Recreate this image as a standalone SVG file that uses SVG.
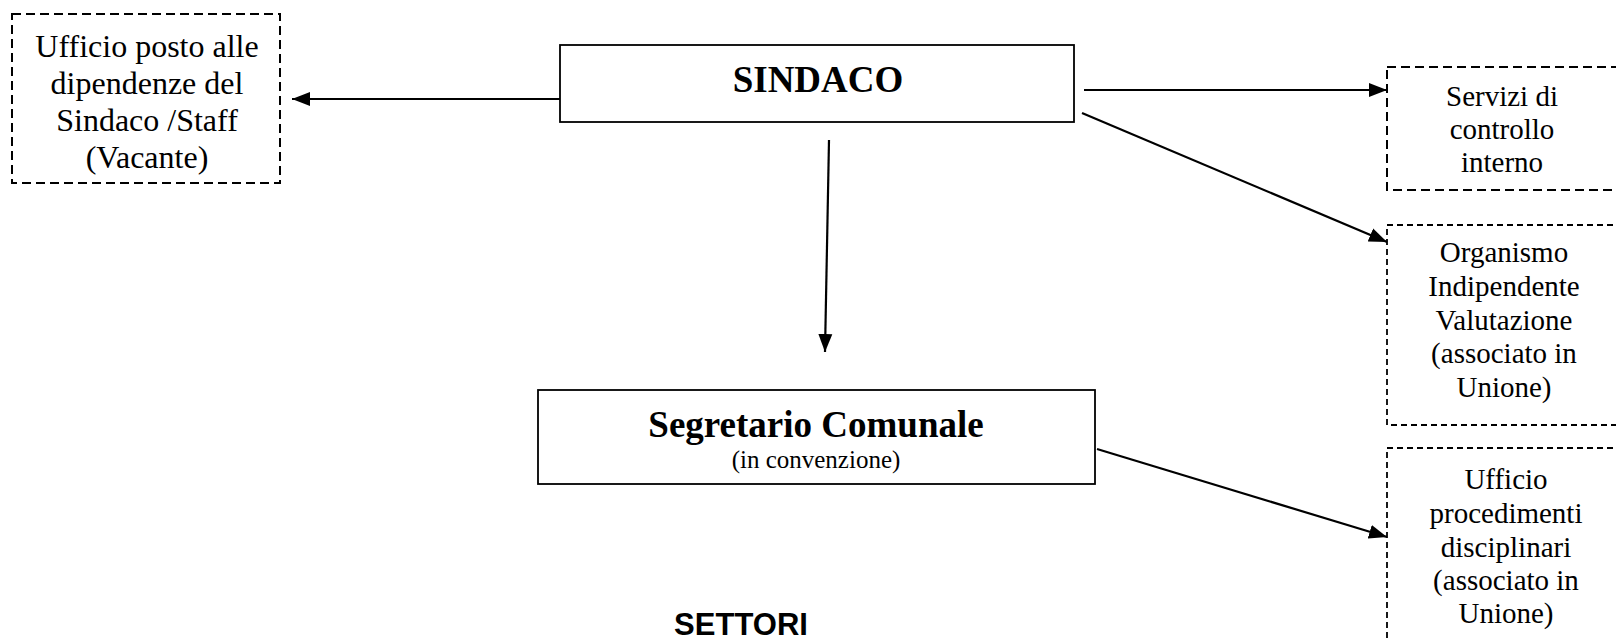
<svg xmlns="http://www.w3.org/2000/svg" width="1616" height="640" viewBox="0 0 1616 640">
<style>
.bg{fill:#fff}
.solid{fill:#fff;stroke:#000;stroke-width:1.8}
.dash{fill:#fff;stroke:#000;stroke-width:2;stroke-dasharray:9 5}
.dash2{fill:#fff;stroke:#000;stroke-width:1.8;stroke-dasharray:6 4}
.t{font-family:"Liberation Serif","Times New Roman",serif;text-anchor:middle;fill:#000}
.big{font-size:32px}
.mid{font-size:29px}
.bold{font-size:37px;font-weight:bold}
.small{font-size:25px}
.sans{font-family:"Liberation Sans",Arial,sans-serif;font-weight:bold;font-size:31px;text-anchor:middle;fill:#000}
.conn line{stroke:#000;stroke-width:2.2;marker-end:url(#arr)}
</style>
<defs>
<marker id="arr" markerUnits="userSpaceOnUse" markerWidth="19" markerHeight="16" refX="18" refY="8" orient="auto">
<path d="M0,1 L18,8 L0,15 z" fill="#000"/>
</marker>
</defs>
<rect class="bg" x="0" y="0" width="1616" height="640"/>
<g id="staff">
<rect class="dash" x="12" y="14" width="268" height="169"/>
<text class="t big" x="147" y="57">Ufficio posto alle</text>
<text class="t big" x="147" y="94">dipendenze del</text>
<text class="t big" x="147" y="131">Sindaco /Staff</text>
<text class="t big" x="147" y="168">(Vacante)</text>
</g>
<g id="sindaco">
<rect class="solid" x="560" y="45" width="514" height="77"/>
<text class="t bold" x="818" y="92">SINDACO</text>
</g>
<g id="servizi">
<rect class="dash" x="1387" y="67" width="240" height="123"/>
<text class="t mid" x="1502" y="106">Servizi di</text>
<text class="t mid" x="1502" y="139">controllo</text>
<text class="t mid" x="1502" y="172">interno</text>
</g>
<g id="oiv">
<rect class="dash2" x="1387" y="225" width="240" height="200"/>
<text class="t mid" x="1504" y="262">Organismo</text>
<text class="t mid" x="1504" y="296">Indipendente</text>
<text class="t mid" x="1504" y="330">Valutazione</text>
<text class="t mid" x="1504" y="363">(associato in</text>
<text class="t mid" x="1504" y="397">Unione)</text>
</g>
<g id="segretario">
<rect class="solid" x="538" y="390" width="557" height="94"/>
<text class="t bold" x="816" y="437">Segretario Comunale</text>
<text class="t small" x="816" y="468">(in convenzione)</text>
</g>
<g id="upd">
<rect class="dash2" x="1387" y="448" width="240" height="210"/>
<text class="t mid" x="1506" y="489">Ufficio</text>
<text class="t mid" x="1506" y="523">procedimenti</text>
<text class="t mid" x="1506" y="557">disciplinari</text>
<text class="t mid" x="1506" y="590">(associato in</text>
<text class="t mid" x="1506" y="623">Unione)</text>
</g>
<g id="settori">
<text class="sans" x="741" y="635">SETTORI</text>
</g>
<g id="connectors" class="conn">
<line x1="560" y1="99" x2="292" y2="99"/>
<line x1="1084" y1="90" x2="1387" y2="90"/>
<line x1="1082" y1="113" x2="1387" y2="242"/>
<line x1="829" y1="140" x2="825" y2="352"/>
<line x1="1097" y1="449" x2="1387" y2="537"/>
</g>
</svg>
